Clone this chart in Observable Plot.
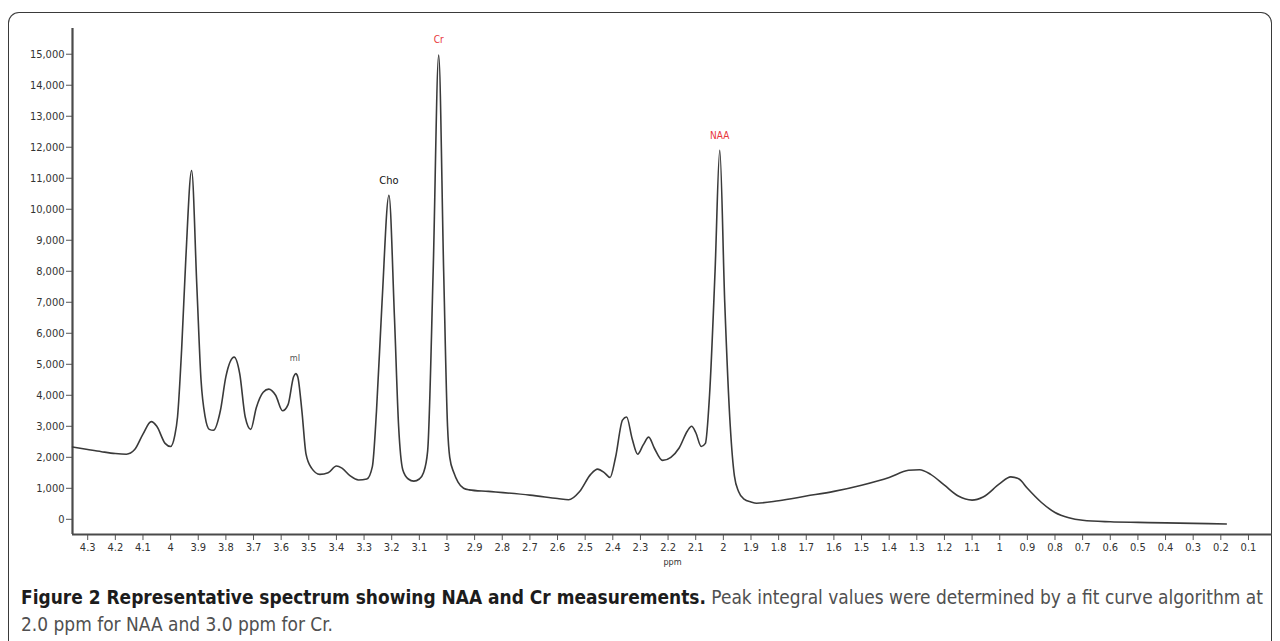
<!DOCTYPE html>
<html>
<head>
<meta charset="utf-8">
<script src="https://cdn.jsdelivr.net/npm/d3@7"></script>
<script src="https://cdn.jsdelivr.net/npm/@observablehq/plot@0.6"></script>
<style>
  html, body { margin: 0; padding: 0; background: #fff; width: 1280px; height: 641px; overflow: hidden; position: relative; }
  #frame { position: absolute; left: 8px; top: 12px; width: 1264px; height: 700px; border: 1.5px solid #3a3a3a; border-bottom: none; border-radius: 11px 11px 0 0; box-sizing: border-box; }
  #chart { position: absolute; left: 0; top: 0; }
  #caption { position: absolute; left: 21px; top: 584px; width: 1250px; font-family: "DejaVu Sans Condensed", sans-serif; font-size: 18.95px; line-height: 27px; color: #505050; white-space: nowrap; }
  #caption b { color: #1c1c1c; }
</style>
</head>
<body>
<div id="frame"></div>
<div id="chart"></div>
<div id="caption"><span id="l1"><b>Figure 2 Representative spectrum showing NAA and Cr measurements.</b> Peak integral values were determined by a fit curve algorithm at</span><br><span id="l2">2.0 ppm for NAA and 3.0 ppm for Cr.</span></div>
<script>
// spectrum (chemical shift in ppm, signal intensity)
const ppm = [4.355,4.30,4.25,4.20,4.16,4.13,4.10,4.07,4.05,4.02,4.00,3.985,3.975,3.96,3.945,3.924,3.905,3.89,3.875,3.86,3.845,3.82,3.80,3.77,3.75,3.73,3.71,3.69,3.665,3.645,3.62,3.595,3.575,3.555,3.547,3.54,3.525,3.51,3.49,3.46,3.43,3.40,3.38,3.35,3.32,3.29,3.27,3.255,3.235,3.21,3.19,3.175,3.16,3.14,3.12,3.10,3.085,3.07,3.05,3.03,3.012,2.998,2.99,2.975,2.96,2.94,2.92,2.85,2.70,2.60,2.56,2.52,2.48,2.455,2.43,2.41,2.39,2.365,2.35,2.33,2.31,2.29,2.27,2.25,2.22,2.19,2.16,2.13,2.115,2.10,2.08,2.065,2.05,2.03,2.013,1.995,1.975,1.96,1.945,1.925,1.90,1.88,1.80,1.70,1.60,1.50,1.40,1.33,1.29,1.25,1.20,1.15,1.10,1.06,1.00,0.96,0.93,0.90,0.85,0.80,0.75,0.70,0.60,0.50,0.40,0.30,0.18];
const intensity = [2330,2250,2180,2120,2100,2250,2750,3150,3000,2450,2350,2700,3300,5500,8400,11250,7500,4500,3300,2900,2870,3500,4600,5230,4700,3300,2900,3600,4100,4200,4000,3500,3700,4600,4700,4600,3500,2100,1650,1450,1500,1720,1650,1400,1270,1300,1700,3500,7000,10450,6500,3000,1600,1300,1230,1300,1500,2200,8000,14970,8000,3000,2000,1500,1200,1000,950,900,780,670,630,900,1450,1620,1500,1350,2000,3200,3300,2600,2100,2400,2650,2300,1900,2000,2300,2850,3000,2800,2350,2450,4000,8000,11900,7000,3000,1400,900,650,560,520,600,750,900,1100,1350,1580,1600,1450,1100,750,620,720,1150,1370,1300,1000,550,220,50,-30,-80,-100,-115,-130,-150];

// peak annotations
const peakNames = ["Cr", "Cho", "NAA", "mI"];
const peakPpm = [3.03, 3.21, 2.013, 3.55];
const peakValue = [14970, 10450, 11900, 4700];
const peakColors = ["#e8353a", "#111111", "#e8353a", "#555555"];
const peakSizes = [10, 11, 10, 9];

// axis ticks
const xTicks = [4.3,4.2,4.1,4,3.9,3.8,3.7,3.6,3.5,3.4,3.3,3.2,3.1,3,2.9,2.8,2.7,2.6,2.5,2.4,2.3,2.2,2.1,2,1.9,1.8,1.7,1.6,1.5,1.4,1.3,1.2,1.1,1,0.9,0.8,0.7,0.6,0.5,0.4,0.3,0.2,0.1];
const yTicks = [0,1000,2000,3000,4000,5000,6000,7000,8000,9000,10000,11000,12000,13000,14000,15000];
const xLabel = "ppm";

const spectrum = ppm.map((p, i) => ({ppm: p, v: intensity[i]}));
const peaks = peakNames.map((n, i) => ({name: n, ppm: peakPpm[i], v: peakValue[i], color: peakColors[i], size: peakSizes[i]}));

const xDomain = [4.355, 0.013];
const yDomain = [-490, 15830];

const chart = Plot.plot({
  width: 1280,
  height: 575,
  marginLeft: 72,
  marginRight: 8,
  marginTop: 28,
  marginBottom: 41,
  style: {fontFamily: "'DejaVu Sans Condensed', 'DejaVu Sans', sans-serif", fontSize: "11px", color: "#333", background: "transparent"},
  x: {domain: xDomain, label: null},
  y: {domain: yDomain, label: null},
  marks: [
    Plot.axisX({ticks: xTicks, tickSize: 6, tickPadding: 3, tickFormat: d => String(d), stroke: "#555", label: null}),
    Plot.axisY({ticks: yTicks, tickSize: 6, tickPadding: 2, tickFormat: d3.format(","), stroke: "#555", label: null}),
    Plot.ruleY([yDomain[0]], {stroke: "#4a4a4a", strokeWidth: 2.2}),
    Plot.ruleX([xDomain[0]], {stroke: "#4a4a4a", strokeWidth: 2.2}),
    Plot.line(spectrum, {x: "ppm", y: "v", curve: "monotone-x", stroke: "#3a3a3a", strokeWidth: 1.6}),
    Plot.text(peaks, {x: "ppm", y: "v", text: "name", fill: "color", fontSize: "size", dy: -15}),
    Plot.text([xLabel], {frameAnchor: "bottom", text: d => d, dy: 30, fontSize: 9, fill: "#333"})
  ]
});
document.getElementById("chart").appendChild(chart);
</script>
</body>
</html>
